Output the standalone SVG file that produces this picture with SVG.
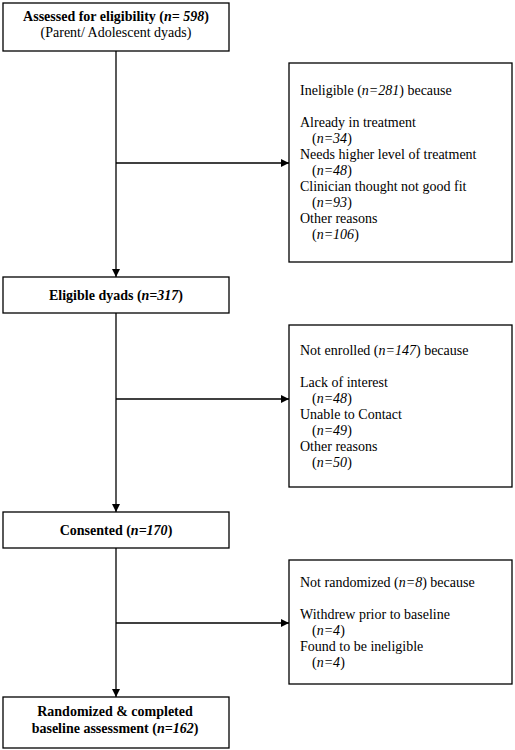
<svg xmlns="http://www.w3.org/2000/svg" width="515" height="750" viewBox="0 0 515 750">
<style>
  rect { fill: #fff; stroke: #000; stroke-width: 1.3; }
  text { font-family: "Liberation Serif", "DejaVu Serif", serif; font-size: 14px; fill: #000; }
  .b { font-weight: bold; text-anchor: middle; }
  .c { text-anchor: middle; }
  .i { font-style: italic; }
  .conn line { stroke: #000; stroke-width: 1.3; }
</style>
<defs>
  <marker id="arr" viewBox="0 0 10 10" refX="10" refY="5" markerWidth="8" markerHeight="8" markerUnits="userSpaceOnUse" orient="auto">
    <path d="M0,0 L10,5 L0,10 z" fill="#000"/>
  </marker>
</defs>
<g class="conn">
  <line x1="116" y1="51" x2="116" y2="277" marker-end="url(#arr)"/>
  <line x1="116" y1="313" x2="116" y2="512" marker-end="url(#arr)"/>
  <line x1="116" y1="548" x2="116" y2="697" marker-end="url(#arr)"/>
  <line x1="116" y1="163" x2="289" y2="163" marker-end="url(#arr)"/>
  <line x1="116" y1="399" x2="289" y2="399" marker-end="url(#arr)"/>
  <line x1="116" y1="623" x2="289" y2="623" marker-end="url(#arr)"/>
</g>
<g id="assessed">
  <rect x="3" y="3" width="226" height="48"/>
  <text class="b" x="116" y="21">Assessed for eligibility (<tspan class="i">n= 598</tspan>)</text>
  <text class="c" x="116" y="37">(Parent/ Adolescent dyads)</text>
</g>
<g id="ineligible">
  <rect x="289" y="63" width="223" height="199"/>
  <text x="300" y="95">Ineligible (<tspan class="i">n=281</tspan>) because</text>
  <text x="300" y="127">Already in treatment</text>
  <text x="312" y="143">(<tspan class="i">n=34</tspan>)</text>
  <text x="300" y="159">Needs higher level of treatment</text>
  <text x="312" y="175">(<tspan class="i">n=48</tspan>)</text>
  <text x="300" y="191">Clinician thought not good fit</text>
  <text x="312" y="207">(<tspan class="i">n=93</tspan>)</text>
  <text x="300" y="223">Other reasons</text>
  <text x="312" y="239">(<tspan class="i">n=106</tspan>)</text>
</g>
<g id="eligible">
  <rect x="3" y="277" width="226" height="36"/>
  <text class="b" x="116" y="300">Eligible dyads (<tspan class="i">n=317</tspan>)</text>
</g>
<g id="notenrolled">
  <rect x="289" y="325" width="223" height="162"/>
  <text x="300" y="355">Not enrolled (<tspan class="i">n=147</tspan>) because</text>
  <text x="300" y="387">Lack of interest</text>
  <text x="312" y="403">(<tspan class="i">n=48</tspan>)</text>
  <text x="300" y="419">Unable to Contact</text>
  <text x="312" y="435">(<tspan class="i">n=49</tspan>)</text>
  <text x="300" y="451">Other reasons</text>
  <text x="312" y="467">(<tspan class="i">n=50</tspan>)</text>
</g>
<g id="consented">
  <rect x="3" y="512" width="226" height="36"/>
  <text class="b" x="116" y="535">Consented (<tspan class="i">n=170</tspan>)</text>
</g>
<g id="notrandomized">
  <rect x="289" y="560" width="223" height="124"/>
  <text x="300" y="587">Not randomized (<tspan class="i">n=8</tspan>) because</text>
  <text x="300" y="619">Withdrew prior to baseline</text>
  <text x="312" y="635">(<tspan class="i">n=4</tspan>)</text>
  <text x="300" y="651">Found to be ineligible</text>
  <text x="312" y="667">(<tspan class="i">n=4</tspan>)</text>
</g>
<g id="randomized">
  <rect x="3" y="697" width="226" height="51"/>
  <text class="b" x="115" y="716">Randomized &amp; completed</text>
  <text class="b" x="115" y="733">baseline assessment (<tspan class="i">n=162</tspan>)</text>
</g>
</svg>
